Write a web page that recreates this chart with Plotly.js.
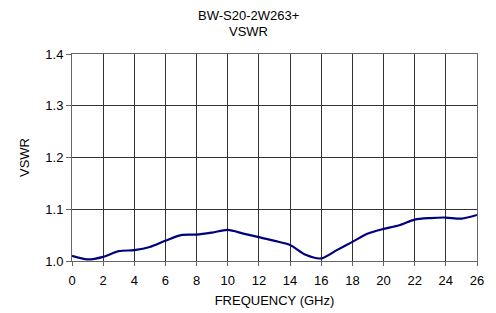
<!DOCTYPE html>
<html><head><meta charset="utf-8">
<script src="https://cdn.plot.ly/plotly-3.0.1.min.js"></script>
<style>html,body{margin:0;padding:0;background:#fff}#c{width:496px;height:313px}</style>
</head><body><div id="c"></div>
<script>
const freq = [0,1,2,3,4,5,6,7,8,9,10,11,12,13,14,15,16,17,18,19,20,21,22,23,24,25,26];
const vswr = [1.010,1.003,1.008,1.019,1.021,1.027,1.039,1.050,1.051,1.055,1.060,1.053,1.046,1.039,1.031,1.012,1.005,1.021,1.037,1.053,1.062,1.069,1.080,1.083,1.084,1.082,1.089];
const xTicks = [0,2,4,6,8,10,12,14,16,18,20,22,24,26];
const yTicks = [1.0,1.1,1.2,1.3,1.4];
const yTickText = ["1.0","1.1","1.2","1.3","1.4"];
const titleLines = ["BW-S20-2W263+", "VSWR"];
const fam = "Liberation Sans, Arial, sans-serif";
const font = {family: fam, size: 13, color: "#000"};
const plotH = 313 - 54 - 52, plotW = 496 - 72 - 19;
const titleX = (248 - 72) / plotW;
Plotly.newPlot("c", [{
  x: freq, y: vswr, type: "scatter", mode: "lines",
  line: {color: "#000080", width: 2.2, shape: "spline", smoothing: 0.8}
}], {
  width: 496, height: 313,
  margin: {l: 72, r: 19, t: 54, b: 52},
  paper_bgcolor: "#fff", plot_bgcolor: "#fff",
  showlegend: false,
  annotations: [
    {text: titleLines[0], xref: "paper", yref: "paper", x: titleX, y: 1 + (54 - 15) / plotH, xanchor: "center", yanchor: "middle", showarrow: false, font: {family: fam, size: 13, color: "#000"}},
    {text: titleLines[1], xref: "paper", yref: "paper", x: titleX, y: 1 + (54 - 32) / plotH, xanchor: "center", yanchor: "middle", showarrow: false, font: {family: fam, size: 13, color: "#000"}}
  ],
  xaxis: {
    range: [0, 26], tickvals: xTicks, ticktext: xTicks.map(String),
    showgrid: true, gridcolor: "#333", gridwidth: 1,
    showline: true, linecolor: "#666", linewidth: 1, mirror: true,
    ticks: "outside", ticklen: 4, tickcolor: "#666", ticklabelstandoff: 3,
    tickfont: font, zeroline: false,
    title: {text: "FREQUENCY (GHz)", font: {family: fam, size: 13, color: "#000"}, standoff: 9}
  },
  yaxis: {
    range: [1.0, 1.4], tickvals: yTicks, ticktext: yTickText,
    showgrid: true, gridcolor: "#333", gridwidth: 1,
    showline: true, linecolor: "#666", linewidth: 1, mirror: true,
    ticks: "outside", ticklen: 5, tickcolor: "#666",
    tickfont: font, zeroline: false,
    title: {text: "VSWR", font: {family: fam, size: 13, color: "#000"}, standoff: 12}
  }
}, {displayModeBar: false, staticPlot: true});
</script></body></html>
